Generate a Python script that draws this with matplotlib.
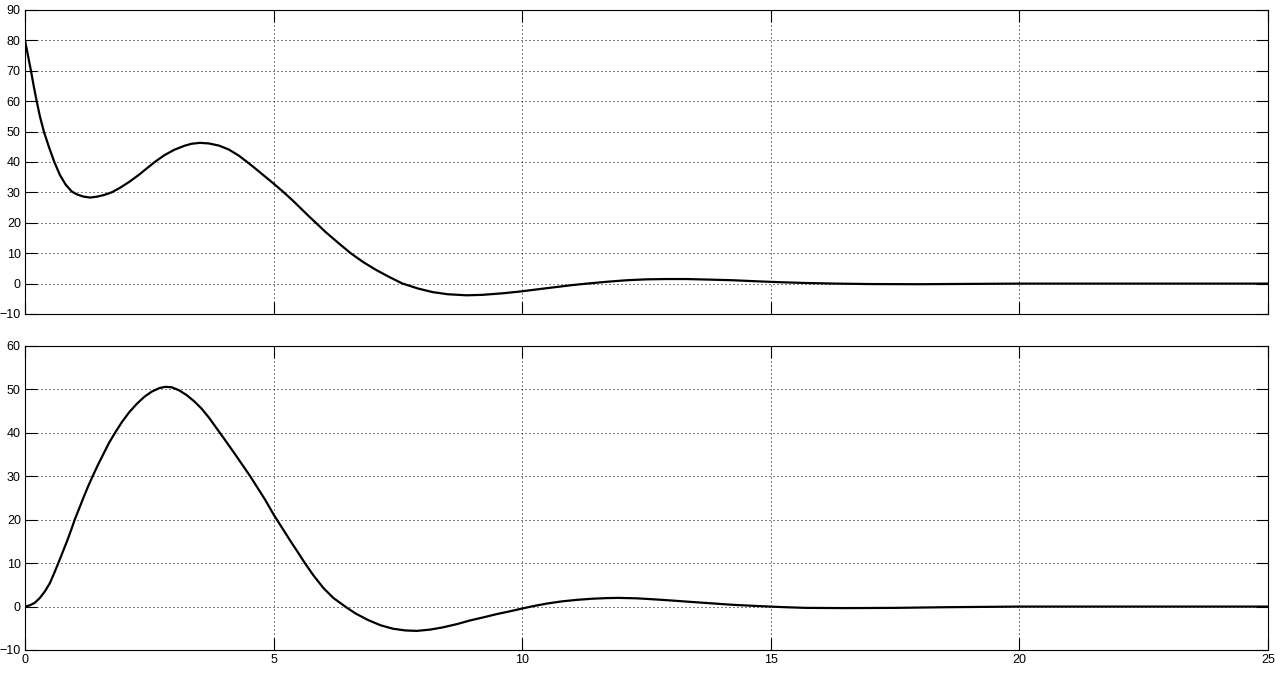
import matplotlib
matplotlib.use("Agg")
import matplotlib.pyplot as plt

# Top signal
t_top = [0, 0.06, 0.12, 0.175, 0.235, 0.3, 0.38, 0.48, 0.59, 0.7, 0.82, 0.94, 1.05,
         1.18, 1.31, 1.45, 1.6, 1.74, 1.9, 2.1, 2.3, 2.45, 2.61, 2.8, 3.0, 3.2, 3.35,
         3.52, 3.7, 3.9, 4.1, 4.3, 4.46, 4.6, 4.8, 5.0, 5.22, 5.4, 5.55, 5.7, 5.85,
         6.05, 6.3, 6.55, 6.8, 7.05, 7.3, 7.58, 7.9, 8.2, 8.5, 8.88, 9.2, 9.6, 9.96,
         10.3, 10.7, 11.0, 11.3, 11.7, 12.1, 12.5, 12.9, 13.3, 13.8, 14.24, 14.8,
         15.2, 15.7, 16.3, 17, 18, 19, 20, 22, 25]
y_top = [80, 75, 70, 65, 60, 55, 50, 45, 40, 35.8, 32.5, 30.3, 29.3,
         28.6, 28.3, 28.6, 29.2, 30, 31.4, 33.5, 35.9, 37.9, 40, 42.2, 44, 45.3, 46,
         46.3, 46.1, 45.4, 44.1, 42.1, 40.1, 38.3, 35.6, 32.9, 29.8, 27.1, 24.7, 22.3, 20,
         16.9, 13.4, 10, 7.1, 4.6, 2.4, 0.1, -1.6, -2.8, -3.5, -3.85, -3.7, -3.2, -2.6,
         -1.9, -1.1, -0.5, 0, 0.6, 1.1, 1.4, 1.5, 1.5, 1.3, 1.1, 0.7,
         0.45, 0.2, 0, -0.15, -0.2, -0.1, 0, 0, 0]

# Bottom signal
t_bot = [0, 0.1, 0.2, 0.3, 0.4, 0.5, 0.58, 0.67, 0.76, 0.85, 0.93, 1.0, 1.09, 1.18,
         1.27, 1.36, 1.47, 1.58, 1.69, 1.81, 1.95, 2.1, 2.25, 2.4, 2.55, 2.7, 2.82,
         2.95, 3.1, 3.25, 3.4, 3.55, 3.7, 3.92, 4.07, 4.23, 4.38, 4.53, 4.68, 4.83,
         5.0, 5.2, 5.35, 5.5, 5.63, 5.8, 6.0, 6.2, 6.44, 6.65, 6.9, 7.15, 7.4, 7.65,
         7.88, 8.15, 8.4, 8.7, 8.95, 9.25, 9.5, 9.75, 9.96, 10.2, 10.5, 10.8, 11.1,
         11.4, 11.7, 11.93, 12.3, 12.6, 13.0, 13.3, 13.8, 14.24, 14.6, 14.98, 15.3,
         15.7, 16.5, 17.5, 18.5, 20, 25]
y_bot = [0, 0.3, 0.9, 2.0, 3.5, 5.4, 7.5, 10, 12.6, 15.2, 17.7, 20, 22.6, 25.2,
         27.7, 30, 32.7, 35.2, 37.7, 40, 42.5, 44.8, 46.7, 48.3, 49.5, 50.3, 50.6,
         50.5, 49.8, 48.7, 47.3, 45.6, 43.5, 40, 37.6, 35, 32.5, 30, 27.3, 24.6,
         21.2, 17.6, 14.9, 12.3, 10, 7.2, 4.3, 2.0, 0, -1.6, -3.1, -4.3, -5.1, -5.5,
         -5.6, -5.3, -4.8, -4.0, -3.2, -2.4, -1.7, -1.1, -0.55, 0.05, 0.7, 1.2, 1.55,
         1.8, 1.95, 2.0, 1.9, 1.7, 1.4, 1.15, 0.75, 0.4, 0.2, 0, -0.15,
         -0.3, -0.35, -0.3, -0.15, 0, 0]

x_ticks = [0, 5, 10, 15, 20, 25]
top_yticks = [-10, 0, 10, 20, 30, 40, 50, 60, 70, 80, 90]
bot_yticks = [-10, 0, 10, 20, 30, 40, 50, 60]

plt.rcParams['font.family'] = ['Liberation Sans', 'DejaVu Sans']

W, H = 1282, 673
fig = plt.figure(figsize=(W / 100, H / 100), dpi=100)
fig.patch.set_facecolor('white')

left = 25 / W
width = 1243 / W
ax1 = fig.add_axes([left, 1 - 314 / H, width, 304 / H])
ax2 = fig.add_axes([left, 1 - 650 / H, width, 304 / H])

for ax, t, y, yt in [(ax1, t_top, y_top, top_yticks), (ax2, t_bot, y_bot, bot_yticks)]:
    ax.plot(t, y, color='black', lw=1.6, solid_joinstyle='round')
    ax.set_xlim(0, 25)
    ax.set_ylim(yt[0], yt[-1])
    ax.set_xticks(x_ticks)
    ax.set_yticks(yt)
    ax.grid(True, color='black', linestyle=(0, (1, 3)), linewidth=0.72)
    ax.tick_params(direction='in', length=8.6, width=0.8, top=True, right=True,
                   labelsize=9, pad=3, colors='black')
    for s in ax.spines.values():
        s.set_linewidth(0.8)
        s.set_color('black')

ax1.tick_params(labelbottom=False)

fig.savefig('out.png', dpi=100, facecolor='white')
